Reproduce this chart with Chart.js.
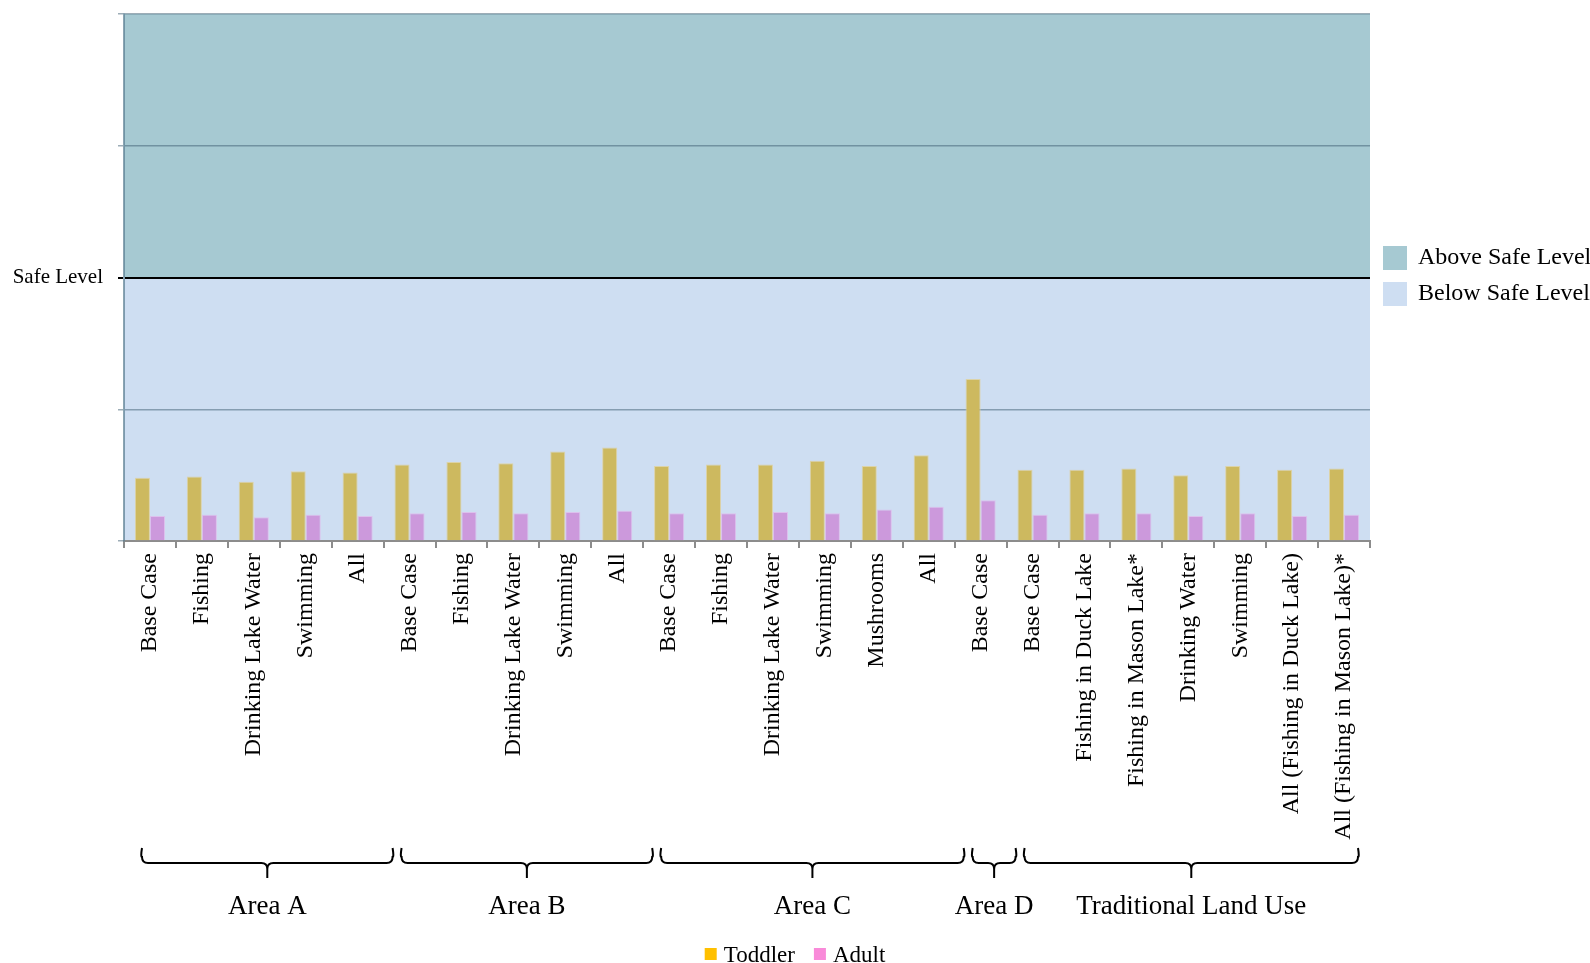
<!DOCTYPE html>
<html>
<head>
<meta charset="utf-8">
<script src="https://cdn.jsdelivr.net/npm/chart.js@4/dist/chart.umd.min.js"></script>
<style>
  html, body { margin: 0; padding: 0; background: #fff; }
  canvas { display: block; }
</style>
</head>
<body>
<canvas id="exposure-chart" width="1590" height="963"></canvas>
<script>
// categories (x axis), in display order
const categories = [
  'Base Case', 'Fishing', 'Drinking Lake Water', 'Swimming', 'All',
  'Base Case', 'Fishing', 'Drinking Lake Water', 'Swimming', 'All',
  'Base Case', 'Fishing', 'Drinking Lake Water', 'Swimming', 'Mushrooms', 'All',
  'Base Case',
  'Base Case', 'Fishing in Duck Lake', 'Fishing in Mason Lake*', 'Drinking Water', 'Swimming',
  'All (Fishing in Duck Lake)', 'All (Fishing in Mason Lake)*'
]
const toddler = [
  0.48, 0.49, 0.45, 0.53, 0.52,
  0.58, 0.60, 0.59, 0.68, 0.71,
  0.57, 0.58, 0.58, 0.61, 0.57, 0.65,
  1.23,
  0.54, 0.54, 0.55, 0.50, 0.57, 0.54, 0.55
]
const adult = [
  0.19, 0.20, 0.18, 0.20, 0.19,
  0.21, 0.22, 0.21, 0.22, 0.23,
  0.21, 0.21, 0.22, 0.21, 0.24, 0.26,
  0.31,
  0.20, 0.21, 0.21, 0.19, 0.21, 0.19, 0.20
]
const groupNames = ['Area A', 'Area B', 'Area C', 'Area D', 'Traditional Land Use']
const groupSizes = [5, 5, 6, 1, 7]
const seriesNames = ['Toddler', 'Adult']
const bandNames = ['Above Safe Level', 'Below Safe Level']
const safeLevel = 2
const yMax = 4

const SERIF = "'Liberation Serif', 'Times New Roman', serif"
const ABOVE_COLOR = '#A6C9D2'
const BELOW_COLOR = '#CEDEF2'
const LEGEND_COLORS = ['#FFC000', '#F98AD9']

// shaded bands above / below the safe level
const bandsPlugin = {
  id: 'bands',
  beforeDraw(chart) {
    const { ctx, chartArea: a, scales: { y } } = chart
    const ySafe = y.getPixelForValue(safeLevel)
    const yTop = y.getPixelForValue(yMax)
    ctx.save()
    ctx.fillStyle = ABOVE_COLOR
    ctx.fillRect(a.left, yTop, a.right - a.left, ySafe - yTop)
    ctx.fillStyle = BELOW_COLOR
    ctx.fillRect(a.left, ySafe, a.right - a.left, y.getPixelForValue(0) - ySafe)
    ctx.restore()
  }
}

function brace(ctx, x1, x2, yTop, yMid, yTip) {
  const r = 6
  const xm = (x1 + x2) / 2
  ctx.beginPath()
  ctx.moveTo(x1, yTop)
  ctx.quadraticCurveTo(x1 - 1.5, yMid - r, x1, yMid - r)
  ctx.quadraticCurveTo(x1, yMid, x1 + r, yMid)
  ctx.lineTo(xm - r, yMid)
  ctx.quadraticCurveTo(xm, yMid, xm, yMid + r)
  ctx.lineTo(xm, yTip)
  ctx.moveTo(xm, yMid + r)
  ctx.quadraticCurveTo(xm, yMid, xm + r, yMid)
  ctx.lineTo(x2 - r, yMid)
  ctx.quadraticCurveTo(x2, yMid, x2, yMid - r)
  ctx.quadraticCurveTo(x2 + 1.5, yMid - r, x2, yTop)
  ctx.stroke()
}

// group braces, group names and both legends
const annotationsPlugin = {
  id: 'annotations',
  afterDraw(chart) {
    const { ctx, chartArea: a, scales: { x }, width } = chart
    const w = x.getPixelForValue(1) - x.getPixelForValue(0)
    ctx.save()
    ctx.strokeStyle = '#000'
    ctx.lineWidth = 2
    ctx.fillStyle = '#000'
    ctx.textAlign = 'center'
    ctx.textBaseline = 'alphabetic'
    ctx.font = '27px ' + SERIF
    let start = 0
    groupSizes.forEach((n, i) => {
      const left = x.getPixelForValue(start) - w / 2 + 18
      const right = Math.min(x.getPixelForValue(start + n - 1) + w / 2 + 9, a.right - 12)
      brace(ctx, left, right, 848, 863, 878)
      ctx.fillText(groupNames[i], (left + right) / 2, 914)
      start += n
    })

    // band legend (right)
    ctx.textAlign = 'left'
    ctx.font = '24px ' + SERIF
    ;[ABOVE_COLOR, BELOW_COLOR].forEach((c, i) => {
      const top = 246 + i * 36
      ctx.fillStyle = c
      ctx.fillRect(a.right + 13, top, 24, 24)
      ctx.fillStyle = '#000'
      ctx.fillText(bandNames[i], a.right + 48, top + 18)
    })

    // series legend (bottom, centred on the canvas)
    ctx.font = '23px ' + SERIF
    const widths = seriesNames.map(s => ctx.measureText(s).width)
    const total = widths.reduce((s, v) => s + v, 0) + 2 * (12 + 7) + 19
    let lx = width / 2 - total / 2
    seriesNames.forEach((s, i) => {
      ctx.fillStyle = LEGEND_COLORS[i]
      ctx.fillRect(lx, 948, 12, 12)
      ctx.fillStyle = '#000'
      ctx.fillText(s, lx + 19, 961.5)
      lx += 19 + widths[i] + 19
    })
    ctx.restore()
  }
}

const gridGray = 'rgba(60,92,112,0.5)'

new Chart(document.getElementById('exposure-chart'), {
  type: 'bar',
  data: {
    labels: categories,
    datasets: [
      { label: seriesNames[0], data: toddler, backgroundColor: '#CDB95F', borderColor: 'rgba(222,210,160,0.9)', borderWidth: 1, categoryPercentage: 0.58, barPercentage: 1 },
      { label: seriesNames[1], data: adult, backgroundColor: '#CC99DC', borderColor: 'rgba(222,190,236,0.9)', borderWidth: 1, categoryPercentage: 0.58, barPercentage: 1 }
    ]
  },
  options: {
    responsive: false,
    animation: false,
    devicePixelRatio: 1,
    layout: { padding: { top: 14, right: 220, bottom: 0, left: 0 } },
    plugins: { legend: { display: false }, tooltip: { enabled: false } },
    scales: {
      x: {
        offset: true,
        grid: { offset: true, drawOnChartArea: false, tickLength: 7, color: '#8c8c8c', lineWidth: 2 },
        border: { color: '#8c8c8c', width: 2 },
        ticks: {
          autoSkip: false, minRotation: 90, maxRotation: 90, padding: 5,
          color: '#000', font: { family: SERIF, size: 24 }
        },
        afterFit(scale) { scale.height = 422 }
      },
      y: {
        min: 0, max: yMax,
        grid: {
          tickLength: 6,
          color: ctx => ctx.tick && ctx.tick.value === safeLevel ? '#000' : gridGray,
          lineWidth: ctx => ctx.tick && ctx.tick.value === safeLevel ? 2 : 1.5
        },
        border: { color: 'rgba(90,125,145,0.7)', width: 2 },
        ticks: {
          stepSize: 1, padding: 15, color: '#000',
          font: { family: SERIF, size: 21 },
          callback: v => v === safeLevel ? 'Safe Level' : ''
        },
        afterFit(scale) {
          scale.width = 124
          scale.paddingTop = 0
          scale.paddingBottom = 0
        }
      }
    }
  },
  plugins: [bandsPlugin, annotationsPlugin]
})
</script>
</body>
</html>
